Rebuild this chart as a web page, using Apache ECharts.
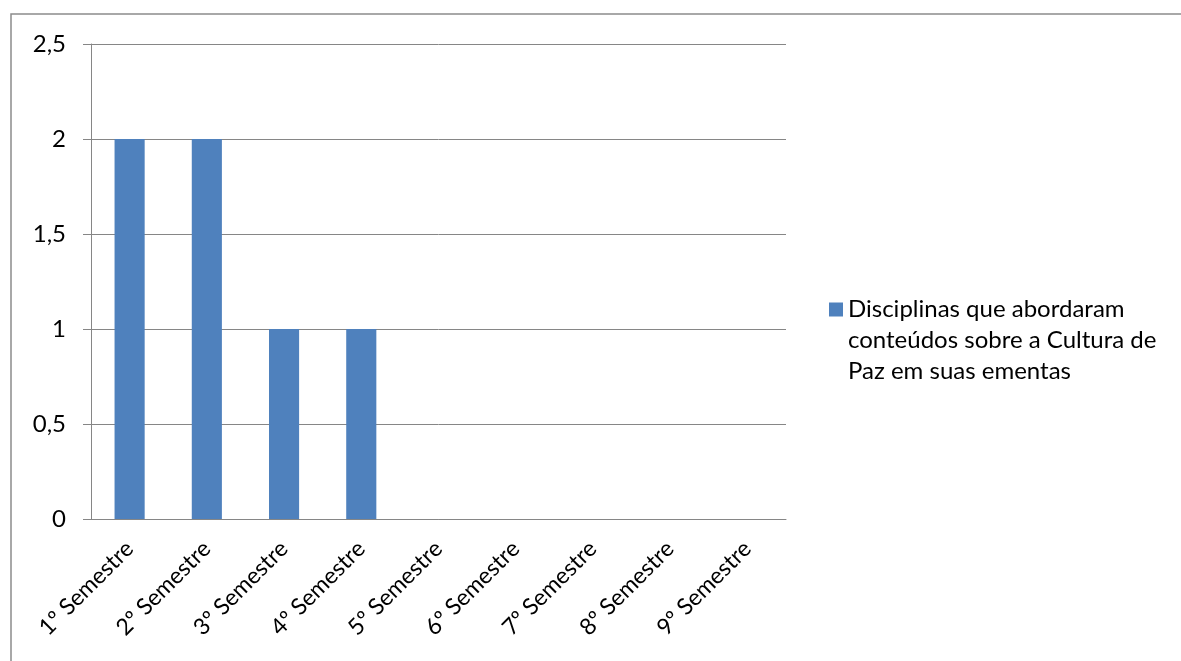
<!DOCTYPE html>
<html>
<head>
<meta charset="utf-8">
<script src="https://cdn.jsdelivr.net/npm/echarts@6/dist/echarts.min.js"></script>
<style>
html, body { margin: 0; padding: 0; background: #fff; }
#mainChart { width: 1181px; height: 661px; }
</style>
</head>
<body>
<div id="mainChart"></div>
<script>
var semestres = ['1º Semestre', '2º Semestre', '3º Semestre', '4º Semestre', '5º Semestre',
	'6º Semestre', '7º Semestre', '8º Semestre', '9º Semestre'];
var disciplinas = [2, 2, 1, 1, 0, 0, 0, 0, 0];
var serieNome = 'Disciplinas que abordaram\nconteúdos sobre a Cultura de\nPaz em suas ementas';

var fonte = 'Lato, "Noto Sans", sans-serif';
var cinza = '#868686';

var dom = document.getElementById('mainChart');
var myChart = echarts.init(dom);

var option = {
	backgroundColor: '#fff',
	animation: false,
	textStyle: { fontFamily: fonte, color: '#000' },
	graphic: [{
		type: 'rect',
		shape: { x: 11, y: 14, width: 1300, height: 800 },
		style: { fill: 'none', stroke: '#8c8c8c', lineWidth: 1.5 },
		silent: true
	}],
	grid: { left: 91, right: 395, top: 44, bottom: 142 },
	legend: {
		orient: 'vertical',
		left: 829,
		top: 232,
		padding: 0,
		itemWidth: 14,
		itemHeight: 14,
		itemGap: 0,
		icon: 'rect',
		data: [serieNome],
		// duas linhas vazias antes para o quadrado ficar na primeira linha
		formatter: function (n) { return '\n\n' + n; },
		textStyle: {
			fontFamily: fonte, fontSize: 24, color: '#000',
			lineHeight: 31
		}
	},
	xAxis: {
		type: 'category',
		data: semestres,
		axisLine: { lineStyle: { color: cinza } },
		axisTick: { length: 8, lineStyle: { color: cinza } },
		axisLabel: {
			interval: 0,
			rotate: 45,
			margin: 26,
			fontSize: 23,
			color: '#000',
			fontFamily: fonte
		}
	},
	yAxis: {
		type: 'value',
		min: 0,
		max: 2.5,
		interval: 0.5,
		axisLine: { show: true, lineStyle: { color: cinza } },
		axisTick: { show: true, length: 8, lineStyle: { color: cinza } },
		splitLine: { lineStyle: { color: cinza } },
		axisLabel: {
			margin: 25,
			fontSize: 24,
			color: '#000',
			fontFamily: fonte,
			formatter: function (v) { return String(v).replace('.', ','); }
		}
	},
	series: [{
		name: serieNome,
		type: 'bar',
		data: disciplinas,
		barWidth: '39%',
		itemStyle: { color: '#4f81bd' }
	}]
};

myChart.setOption(option, true);
</script>
</body>
</html>
